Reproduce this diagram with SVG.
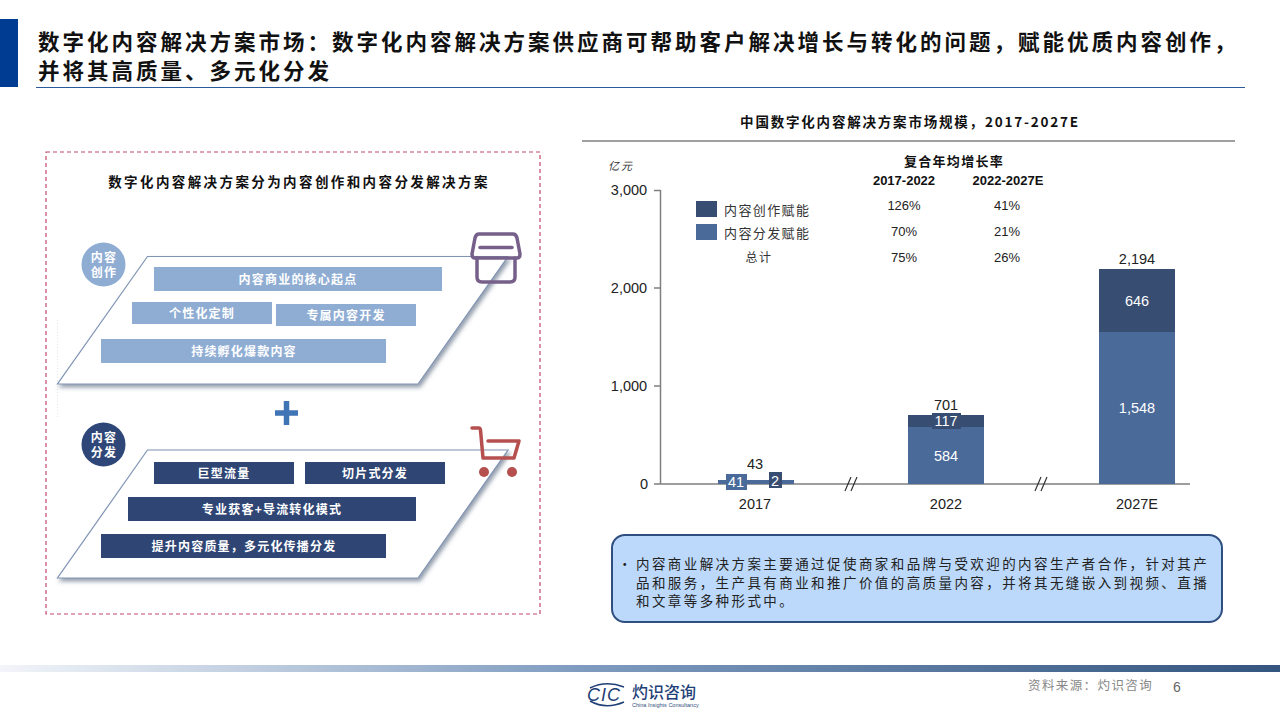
<svg xmlns="http://www.w3.org/2000/svg" width="1280" height="720" viewBox="0 0 1280 720">
<style>
text{font-family:"Noto Sans CJK SC","Liberation Sans",sans-serif}
.t{font-size:21.5px;font-weight:700;fill:#111;letter-spacing:3px}
.num{font-family:"Liberation Sans",Arial,sans-serif;font-size:14.5px;fill:#222;text-anchor:middle}
.numw{font-family:"Liberation Sans",Arial,sans-serif;font-size:14.5px;fill:#fff;text-anchor:middle}
.bl{font-size:12px;font-weight:700;fill:#fff;text-anchor:middle;letter-spacing:1.2px}
.cg{font-family:"Liberation Sans",Arial,sans-serif;font-size:13px;fill:#222;text-anchor:middle}
.cgb{font-family:"Liberation Sans",Arial,sans-serif;font-size:13px;font-weight:700;fill:#111;text-anchor:middle}
.leg{font-size:13px;fill:#333;letter-spacing:1.4px}
.note{font-size:13.5px;fill:#222;letter-spacing:2.42px}
.para{fill:#fff;stroke:#8094b4;stroke-width:1.2;filter:url(#sh)}
.lite{fill:#8fadd3}
.dark{fill:#2f4675}
.bar-d{fill:#384d72}
.bar-l{fill:#4a6a9a}
.ax{stroke:#7f7f7f;stroke-width:1.5;fill:none}
</style>
<defs>
<filter id="sh" x="-10%" y="-10%" width="125%" height="125%"><feDropShadow dx="2" dy="3" stdDeviation="2" flood-color="#5a6a80" flood-opacity=".65"/></filter>
<linearGradient id="band"><stop offset="0" stop-color="#f2f5f9"/><stop offset=".45" stop-color="#7f9cc0"/><stop offset="1" stop-color="#33557f"/></linearGradient>
</defs>
<rect width="1280" height="720" fill="#fff"/>

<g id="header">
<rect x="0" y="19" width="18" height="68" fill="#003d92"/>
<text class="t" x="38" y="50">数字化内容解决方案市场：数字化内容解决方案供应商可帮助客户解决增长与转化的问题，赋能优质内容创作，</text>
<text class="t" x="38" y="79">并将其高质量、多元化分发</text>
<line x1="36" y1="87.5" x2="1245" y2="87.5" stroke="#2a5a9a" stroke-width="1.2"/>
</g>

<g id="left-panel">
<rect x="46" y="152" width="494" height="462" fill="none" stroke="#c4496a" stroke-width="1.2" stroke-dasharray="4 3"/>
<text x="299" y="187" font-size="13.5" font-weight="700" fill="#111" text-anchor="middle" letter-spacing="2.4">数字化内容解决方案分为内容创作和内容分发解决方案</text>
<line x1="57.5" y1="320" x2="57.5" y2="417" stroke="#e6e6e6" stroke-dasharray="1 2"/>
</g>

<g id="creation">
<polygon class="para" points="147.500,256.500 508,256.500 418,384 57.500,384"/>
<circle cx="103.500" cy="264.500" r="22" fill="#8fadd3"/>
<text class="bl" x="104" y="262">内容</text>
<text class="bl" x="104" y="277">创作</text>
<rect class="lite" x="154" y="267" width="288" height="24"/>
<text class="bl" x="298" y="284">内容商业的核心起点</text>
<rect class="lite" x="132" y="302" width="140" height="22"/>
<text class="bl" x="202" y="318">个性化定制</text>
<rect class="lite" x="276" y="304" width="140" height="22"/>
<text class="bl" x="346" y="320">专属内容开发</text>
<rect class="lite" x="101" y="339" width="285" height="24"/>
<text class="bl" x="244" y="356">持续孵化爆款内容</text>
<g id="box-icon" fill="none" stroke="#76608a" stroke-width="3.500" stroke-linejoin="round" stroke-linecap="round">
<path d="M479 234H513Q516 234 517 238L520 254Q520 258 517 258H475Q472 258 472 254L475 238Q476 234 479 234Z"/>
<path d="M480 247.500H512"/>
<path d="M477 258V277Q477 282 482 282H510Q515 282 515 277V258"/>
</g>
</g>

<g id="plus"><path d="M286.500 401V425M275 413H298" stroke="#3f74b5" stroke-width="5.500" fill="none"/></g>

<g id="distribution">
<polygon class="para" points="147.500,450 508,450 418,578 57.500,578"/>
<circle cx="103.500" cy="444.500" r="22" fill="#2f4778"/>
<text class="bl" x="104" y="442">内容</text>
<text class="bl" x="104" y="457">分发</text>
<rect class="dark" x="154" y="462" width="140" height="22"/>
<text class="bl" x="224" y="478">巨型流量</text>
<rect class="dark" x="305" y="462" width="140" height="22"/>
<text class="bl" x="375" y="478">切片式分发</text>
<rect class="dark" x="128" y="497" width="288" height="24"/>
<text class="bl" x="272" y="514">专业获客+导流转化模式</text>
<rect class="dark" x="101" y="534" width="285" height="24"/>
<text class="bl" x="244" y="551">提升内容质量，多元化传播分发</text>
<g id="cart-icon" fill="none" stroke="#b5504f" stroke-width="3.500" stroke-linejoin="round" stroke-linecap="round">
<path d="M472 428H479Q480 428 480.500 430L483 458H514L519 441H488"/>
<circle cx="484" cy="472" r="5" fill="#b5504f" stroke="none"/>
<circle cx="512" cy="472" r="5" fill="#b5504f" stroke="none"/>
</g>
</g>

<g id="chart">
<text x="910" y="127" font-size="13.500" font-weight="700" fill="#111" text-anchor="middle" letter-spacing="1.8">中国数字化内容解决方案市场规模，2017-2027E</text>
<line x1="582" y1="141" x2="1235" y2="141" stroke="#7f7f7f" stroke-width="1.500"/>
<text x="608" y="170" font-size="11" fill="#333" letter-spacing="2" font-style="italic">亿元</text>
<g id="y-axis" class="ax">
<path d="M660.500 190V484M654 190.500H660.500M654 288H660.500M654 386H660.500M654 484H1190"/>
<path d="M845 491L851 477M851 491L857 477M1035 491L1041 477M1041 491L1047 477" stroke-width="1.200" stroke="#333"/>
</g>
<text class="num" x="629" y="195">3,000</text>
<text class="num" x="629" y="293">2,000</text>
<text class="num" x="629" y="391">1,000</text>
<text class="num" x="644" y="489">0</text>
<g id="bar-2017">
<rect class="bar-l" x="718" y="480" width="76" height="4"/>
<rect class="bar-l" x="726" y="474" width="21" height="16"/>
<rect class="bar-d" x="769" y="472" width="13" height="16"/>
<text class="numw" x="736" y="487">41</text><text class="numw" x="775" y="486">2</text>
<text class="num" x="755" y="469">43</text>
<text class="num" x="755" y="509">2017</text>
</g>
<g id="bar-2022">
<rect class="bar-l" x="908" y="415" width="76" height="69"/>
<rect class="bar-d" x="908" y="415" width="76" height="12"/>
<rect class="bar-d" x="932" y="413" width="29" height="16"/>
<text class="numw" x="946" y="426">117</text><text class="numw" x="946" y="461">584</text>
<text class="num" x="946" y="410">701</text>
<text class="num" x="946" y="509">2022</text>
</g>
<g id="bar-2027">
<rect class="bar-l" x="1099" y="269" width="76" height="215"/>
<rect class="bar-d" x="1099" y="269" width="76" height="63"/>
<text class="numw" x="1137" y="306">646</text><text class="numw" x="1137" y="413">1,548</text>
<text class="num" x="1137" y="264">2,194</text>
<text class="num" x="1137" y="509">2027E</text>
</g>
<g id="legend">
<rect class="bar-d" x="696" y="201" width="21" height="16"/>
<rect class="bar-l" x="696" y="224" width="21" height="16"/>
<text class="leg" x="724" y="215">内容创作赋能</text>
<text class="leg" x="724" y="238">内容分发赋能</text>
<text x="759" y="262" font-size="12" fill="#333" text-anchor="middle" letter-spacing="1.500">总计</text>
</g>
<g id="cagr">
<text x="954" y="166" font-size="13" font-weight="700" fill="#111" text-anchor="middle" letter-spacing="1.300">复合年均增长率</text>
<text class="cgb" x="904" y="185">2017-2022</text><text class="cgb" x="1008" y="185">2022-2027E</text>
<text class="cg" x="904" y="210">126%</text><text class="cg" x="1007" y="210">41%</text>
<text class="cg" x="904" y="236">70%</text><text class="cg" x="1007" y="236">21%</text>
<text class="cg" x="904" y="262">75%</text><text class="cg" x="1007" y="262">26%</text>
</g>
</g>

<g id="note">
<rect x="612" y="535" width="610" height="87" rx="13" fill="#bcd9fb" stroke="#2f4f80" stroke-width="2"/>
<text class="note" x="618" y="569">•</text>
<text class="note" x="636" y="569">内容商业解决方案主要通过促使商家和品牌与受欢迎的内容生产者合作，针对其产</text>
<text class="note" x="636" y="588">品和服务，生产具有商业和推广价值的高质量内容，并将其无缝嵌入到视频、直播</text>
<text class="note" x="636" y="606">和文章等多种形式中。</text>
</g>

<g id="footer">
<rect x="0" y="665" width="1280" height="7" fill="url(#band)"/>
<g id="logo">
<path d="M590 688Q606 680 624 687M590 701Q606 710 624 702" fill="none" stroke="#1f3f77" stroke-width="1.500"/>
<text x="587" y="701" font-size="18" font-style="italic" fill="#1f3f77" letter-spacing="1" style="font-family:'Liberation Sans',sans-serif">CIC</text>
<text x="632" y="698" font-size="16" font-weight="500" fill="#1f3f77">灼识咨询</text>
<text x="632" y="707" font-size="5.500" fill="#33507f" style="font-family:'Liberation Sans',sans-serif">China Insights Consultancy</text>
</g>
<text x="1028" y="690" font-size="12.500" fill="#888" letter-spacing="1.400">资料来源：灼识咨询</text>
<text x="1177" y="692" font-size="14" fill="#666" text-anchor="middle" style="font-family:'Liberation Sans',sans-serif">6</text>
</g>
</svg>
